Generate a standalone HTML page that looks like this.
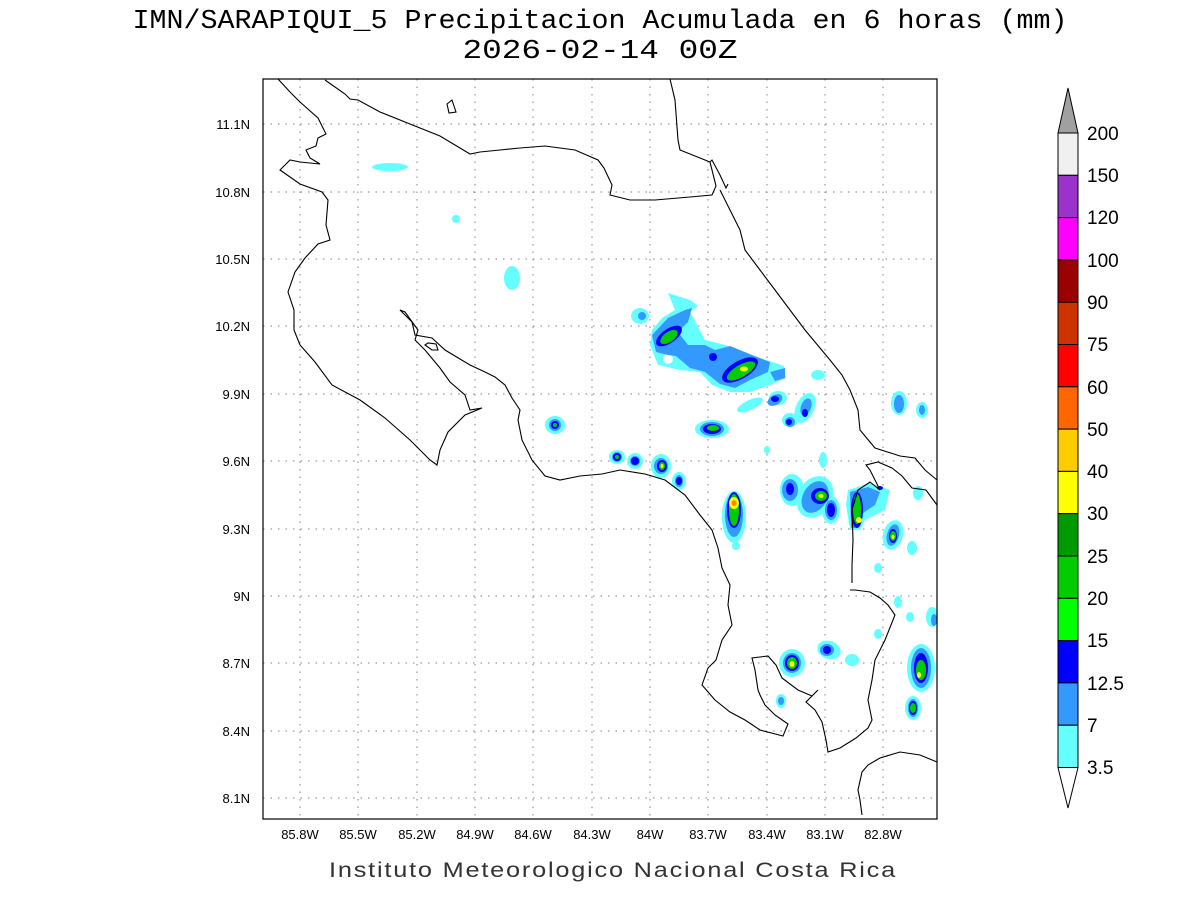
<!DOCTYPE html>
<html><head><meta charset="utf-8"><style>
body{margin:0;background:#fff}
svg{display:block;font-family:"Liberation Sans",sans-serif}
</style></head><body>
<svg width="1200" height="900" viewBox="0 0 1200 900" xmlns="http://www.w3.org/2000/svg">
<rect width="1200" height="900" fill="#fff"/>
<text x="600" y="28" font-size="27" text-anchor="middle" fill="#000" font-family="Liberation Mono, monospace" textLength="935" lengthAdjust="spacingAndGlyphs">IMN/SARAPIQUI_5 Precipitacion Acumulada en 6 horas (mm)</text>
<text x="600" y="58" font-size="27" text-anchor="middle" fill="#000" font-family="Liberation Mono, monospace" textLength="275" lengthAdjust="spacingAndGlyphs">2026-02-14 00Z</text>

<g stroke="#999" stroke-width="1.2" stroke-dasharray="1.5,6">
<line x1="300" y1="79" x2="300" y2="819"/><line x1="358" y1="79" x2="358" y2="819"/><line x1="417" y1="79" x2="417" y2="819"/><line x1="475" y1="79" x2="475" y2="819"/><line x1="533" y1="79" x2="533" y2="819"/><line x1="592" y1="79" x2="592" y2="819"/><line x1="650" y1="79" x2="650" y2="819"/><line x1="708" y1="79" x2="708" y2="819"/><line x1="767" y1="79" x2="767" y2="819"/><line x1="825" y1="79" x2="825" y2="819"/><line x1="883" y1="79" x2="883" y2="819"/>
<line x1="263" y1="124" x2="937" y2="124"/><line x1="263" y1="192" x2="937" y2="192"/><line x1="263" y1="259" x2="937" y2="259"/><line x1="263" y1="326" x2="937" y2="326"/><line x1="263" y1="394" x2="937" y2="394"/><line x1="263" y1="461" x2="937" y2="461"/><line x1="263" y1="529" x2="937" y2="529"/><line x1="263" y1="596" x2="937" y2="596"/><line x1="263" y1="663" x2="937" y2="663"/><line x1="263" y1="731" x2="937" y2="731"/><line x1="263" y1="798" x2="937" y2="798"/>
</g>

<g>
<g fill="#66ffff">
<ellipse cx="390" cy="167" rx="18" ry="4"/><ellipse cx="456" cy="219" rx="4" ry="4"/><ellipse cx="512" cy="278" rx="8" ry="12"/><ellipse cx="640" cy="316" rx="9" ry="8"/>
<path d="M668 293 L690 300 L698 306 L690 312 L705 340 L725 345 L760 358 L784 366 L786 378 L770 385 L750 392 L730 392 L712 385 L700 372 L680 370 L658 365 L650 345 L652 330 L662 318 L675 310 Z"/>
<ellipse cx="750" cy="405" rx="14" ry="5" transform="rotate(-25 750 405)"/><ellipse cx="712" cy="429" rx="17" ry="9"/><ellipse cx="805" cy="408" rx="9" ry="16" transform="rotate(25 805 408)"/><ellipse cx="790" cy="420" rx="8" ry="7"/><ellipse cx="818" cy="375" rx="7" ry="5"/><ellipse cx="778" cy="398" rx="9" ry="7"/>
<ellipse cx="899" cy="403" rx="8" ry="12"/><ellipse cx="922" cy="410" rx="6" ry="8"/><ellipse cx="555" cy="425" rx="10" ry="9"/>
<ellipse cx="617" cy="457" rx="8" ry="7"/><ellipse cx="635" cy="461" rx="8" ry="8"/><ellipse cx="661" cy="466" rx="10" ry="12"/><ellipse cx="679" cy="481" rx="7" ry="9"/>
<ellipse cx="734" cy="517" rx="12" ry="26"/><ellipse cx="792" cy="490" rx="12" ry="16"/><ellipse cx="815" cy="497" rx="17" ry="22" transform="rotate(30 815 497)"/><ellipse cx="831" cy="510" rx="9" ry="14"/>
<path d="M848 490 L870 483 L890 490 L885 510 L865 520 L860 530 L850 530 L846 505 Z"/><ellipse cx="893" cy="535" rx="10" ry="15" transform="rotate(15 893 535)"/><ellipse cx="918" cy="493" rx="5" ry="7"/>
<ellipse cx="736" cy="546" rx="4" ry="4"/><ellipse cx="823" cy="460" rx="4" ry="8"/><ellipse cx="767" cy="450" rx="3" ry="4"/><ellipse cx="912" cy="548" rx="5" ry="7"/>
<ellipse cx="792" cy="663" rx="13" ry="14"/><ellipse cx="829" cy="650" rx="12" ry="9" transform="rotate(20 829 650)"/><ellipse cx="852" cy="660" rx="7" ry="6"/><ellipse cx="781" cy="701" rx="5" ry="7"/>
<ellipse cx="921" cy="668" rx="14" ry="24"/><ellipse cx="913" cy="708" rx="8" ry="12"/><ellipse cx="932" cy="617" rx="6" ry="10"/><ellipse cx="898" cy="602" rx="4" ry="6"/><ellipse cx="878" cy="568" rx="4" ry="5"/><ellipse cx="910" cy="617" rx="4" ry="5"/><ellipse cx="878" cy="634" rx="4" ry="5"/>
</g>
<ellipse cx="668" cy="359" rx="5" ry="5" fill="#fff"/>
<g fill="#3399ff">
<ellipse cx="642" cy="316" rx="4" ry="4"/>
<path d="M652 335 L668 318 L685 310 L692 308 L688 322 L678 332 L688 345 L705 345 L715 350 L730 346 L752 355 L770 362 L768 372 L750 380 L735 388 L720 384 L705 372 L690 368 L676 356 L668 355 L656 352 Z"/>
<path d="M770 372 L785 368 L785 378 L775 381 Z"/>
<ellipse cx="775" cy="400" rx="8" ry="5" transform="rotate(-30 775 400)"/><ellipse cx="806" cy="407" rx="5" ry="9" transform="rotate(20 806 407)"/><ellipse cx="790" cy="422" rx="5" ry="5"/>
<ellipse cx="899" cy="404" rx="5" ry="9"/><ellipse cx="922" cy="410" rx="3" ry="5"/><ellipse cx="555" cy="425" rx="6" ry="6"/><ellipse cx="712" cy="429" rx="12" ry="7"/>
<ellipse cx="617" cy="457" rx="5" ry="5"/><ellipse cx="635" cy="461" rx="5" ry="5"/><ellipse cx="661" cy="466" rx="7" ry="8"/><ellipse cx="679" cy="481" rx="4" ry="6"/>
<ellipse cx="734" cy="515" rx="9" ry="22"/><ellipse cx="790" cy="490" rx="8" ry="11"/><ellipse cx="815" cy="497" rx="12" ry="17" transform="rotate(30 815 497)"/><ellipse cx="831" cy="510" rx="6" ry="10"/>
<path d="M850 492 L868 487 L880 492 L875 505 L860 515 L858 528 L851 528 Z"/><ellipse cx="893" cy="535" rx="6" ry="11" transform="rotate(15 893 535)"/>
<ellipse cx="792" cy="663" rx="9" ry="10"/><ellipse cx="827" cy="650" rx="7" ry="6"/><ellipse cx="921" cy="668" rx="10" ry="20"/><ellipse cx="913" cy="708" rx="5" ry="9"/><ellipse cx="934" cy="620" rx="3" ry="6"/><ellipse cx="781" cy="701" rx="3" ry="4"/>
</g>
<g fill="#0000ff">
<ellipse cx="669" cy="336" rx="15" ry="7" transform="rotate(-35 669 336)"/><ellipse cx="713" cy="357" rx="4" ry="4"/><ellipse cx="740" cy="370" rx="20" ry="9" transform="rotate(-30 740 370)"/>
<ellipse cx="775" cy="399" rx="4" ry="3"/><ellipse cx="805" cy="413" rx="3" ry="4"/><ellipse cx="789" cy="422" rx="3" ry="3"/><ellipse cx="555" cy="425" rx="4" ry="4"/><ellipse cx="712" cy="429" rx="9" ry="5"/>
<ellipse cx="617" cy="457" rx="4" ry="4"/><ellipse cx="635" cy="461" rx="4" ry="4"/><ellipse cx="662" cy="466" rx="5" ry="6"/><ellipse cx="679" cy="481" rx="3" ry="4"/>
<ellipse cx="734" cy="510" rx="7" ry="18"/><ellipse cx="790" cy="489" rx="4" ry="6"/><ellipse cx="820" cy="496" rx="9" ry="8"/><ellipse cx="831" cy="510" rx="4" ry="7"/><ellipse cx="857" cy="510" rx="6" ry="18"/><ellipse cx="880" cy="488" rx="3" ry="2"/><ellipse cx="893" cy="536" rx="4" ry="7"/>
<ellipse cx="792" cy="663" rx="7" ry="8"/><ellipse cx="827" cy="650" rx="4" ry="4"/><ellipse cx="921" cy="668" rx="7" ry="15"/><ellipse cx="913" cy="708" rx="4" ry="7"/>
</g>
<g fill="#00cc00">
<ellipse cx="669" cy="337" rx="10" ry="5" transform="rotate(-35 669 337)"/><ellipse cx="741" cy="371" rx="16" ry="6" transform="rotate(-30 741 371)"/><ellipse cx="713" cy="428" rx="6" ry="3"/><ellipse cx="662" cy="466" rx="3" ry="4"/>
<ellipse cx="734" cy="510" rx="5" ry="16"/><ellipse cx="821" cy="496" rx="6" ry="5"/><ellipse cx="857" cy="509" rx="4" ry="15"/><ellipse cx="893" cy="536" rx="3" ry="5"/>
<ellipse cx="792" cy="663" rx="5" ry="6"/><ellipse cx="921" cy="670" rx="5" ry="10"/><ellipse cx="913" cy="708" rx="3" ry="5"/><ellipse cx="555" cy="425" rx="2" ry="2"/><ellipse cx="617" cy="457" rx="2" ry="2"/>
</g>
<g fill="#ffff00">
<ellipse cx="744" cy="369" rx="4" ry="2.5"/><ellipse cx="734" cy="503" rx="5" ry="6"/><ellipse cx="821" cy="496" rx="2.5" ry="2"/><ellipse cx="859" cy="520" rx="3" ry="3"/><ellipse cx="792" cy="664" rx="2.5" ry="3"/><ellipse cx="919" cy="675" rx="2" ry="3"/><ellipse cx="893" cy="537" rx="1.5" ry="2"/><ellipse cx="662" cy="466" rx="1.5" ry="2"/>
</g>
<ellipse cx="734" cy="503" rx="2.5" ry="3" fill="#ff8800"/>
</g>

<g fill="none" stroke="#000" stroke-width="1.1">
<path d="M278 79 L290 92 L300 102 L318 118 L322 126 L326 134 L318 138 L316 146 L306 150 L310 158 L320 164 L300 162 L290 160 L280 170 L300 184 L322 192 L328 200 L326 225 L330 240 L318 244 L305 258 L295 272 L288 292 L294 310 L294 330 L300 345 L315 362 L332 385 L360 400 L385 418 L410 440 L430 460 L437 465 L440 450 L448 432 L465 415 L482 408 L470 410 L465 395 L450 382 L440 368 L425 350 L415 340 L418 330 L405 312 L400 310 L412 322 L415 335 L432 338 L445 350 L470 365 L485 372 L495 377 L505 385 L512 398 L520 410 L518 420 L522 440 L532 460 L545 476 L560 480 L580 476 L602 474 L620 470 L645 474 L665 480 L685 495 L700 515 L712 530 L718 548 L722 568 L730 585 L728 605 L732 625 L722 640 L716 660 L708 668 L702 685 L715 700 L730 712 L745 720 L760 730 L783 736 L788 724 L775 715 L765 705 L760 695 L758 690 L755 670 L752 658 L768 656 L776 665 L782 678 L798 690 L812 696 L818 690 L806 702 L815 710 L822 722 L826 740 L828 752 L840 748 L856 738 L868 728 L872 720 L868 700 L872 680 L875 660 L885 640 L895 615 L888 605 L880 598 L870 592 L855 590 L850 590"/>
<path d="M425 345 L432 350 L438 350 L436 344 L428 343 Z"/>
<path d="M447 104 L452 100 L456 112 L449 113 Z"/>
<path d="M325 80 L345 94 L350 99 L358 100 L380 112 L410 124 L440 136 L470 154 L480 152 L500 150 L520 148 L545 146 L575 150 L598 160 L604 168 L612 185 L610 195 L630 200 L655 200 L690 197 L712 195 L716 186 L710 162 L712 160 L720 175 L726 188 L728 184"/>
<path d="M670 79 L675 100 L678 140 L680 150 L700 158 L710 162 M720 190 L730 210 L740 230 L745 250 L760 270 L775 290 L790 310 L805 330 L820 348 L830 360 L842 375 L850 390 L858 410 L860 430 L875 448 L900 456 L915 458 L925 470 L937 480"/>
<path d="M852 583 L852 565 L853 540 L852 510 L858 490 L870 482 L880 490 L870 470 L866 465 L878 462 L892 468 L902 476 L912 488 L926 490 L937 505"/>
<path d="M862 815 L860 800 L858 790 L862 772 L868 765 L880 758 L900 752 L920 755 L937 762"/>
</g>

<rect x="263" y="79" width="674" height="740" fill="none" stroke="#000" stroke-width="1.2"/>

<g font-size="13" fill="#000" text-anchor="end">
<text x="250" y="129">11.1N</text><text x="250" y="197">10.8N</text><text x="250" y="264">10.5N</text><text x="250" y="331">10.2N</text><text x="250" y="399">9.9N</text><text x="250" y="466">9.6N</text><text x="250" y="534">9.3N</text><text x="250" y="601">9N</text><text x="250" y="668">8.7N</text><text x="250" y="736">8.4N</text><text x="250" y="803">8.1N</text>
</g>
<g font-size="13" fill="#000" text-anchor="middle">
<text x="300" y="839">85.8W</text><text x="358" y="839">85.5W</text><text x="417" y="839">85.2W</text><text x="475" y="839">84.9W</text><text x="533" y="839">84.6W</text><text x="592" y="839">84.3W</text><text x="650" y="839">84W</text><text x="708" y="839">83.7W</text><text x="767" y="839">83.4W</text><text x="825" y="839">83.1W</text><text x="883" y="839">82.8W</text>
</g>
<text x="613" y="877" font-size="21" text-anchor="middle" fill="#333" letter-spacing="1.5" textLength="568" lengthAdjust="spacingAndGlyphs">Instituto Meteorologico Nacional Costa Rica</text>

<g stroke="#000" stroke-width="1">
<path d="M1058 133 L1068 88 L1078 133 Z" fill="#a0a0a0"/>
<rect x="1058" y="133" width="20" height="42.3" fill="#f0f0f0"/>
<rect x="1058" y="175.3" width="20" height="42.3" fill="#9933cc"/>
<rect x="1058" y="217.6" width="20" height="42.3" fill="#ff00ff"/>
<rect x="1058" y="259.9" width="20" height="42.3" fill="#990000"/>
<rect x="1058" y="302.2" width="20" height="42.3" fill="#cc3300"/>
<rect x="1058" y="344.5" width="20" height="42.3" fill="#ff0000"/>
<rect x="1058" y="386.8" width="20" height="42.3" fill="#ff6600"/>
<rect x="1058" y="429.1" width="20" height="42.3" fill="#ffcc00"/>
<rect x="1058" y="471.4" width="20" height="42.3" fill="#ffff00"/>
<rect x="1058" y="513.7" width="20" height="42.3" fill="#009900"/>
<rect x="1058" y="556" width="20" height="42.3" fill="#00cc00"/>
<rect x="1058" y="598.3" width="20" height="42.3" fill="#00ff00"/>
<rect x="1058" y="640.6" width="20" height="42.3" fill="#0000ff"/>
<rect x="1058" y="682.9" width="20" height="42.3" fill="#3399ff"/>
<rect x="1058" y="725.2" width="20" height="42.3" fill="#66ffff"/>
<path d="M1058 767.5 L1068 808 L1078 767.5 Z" fill="#fff"/>
</g>
<g font-size="19" fill="#000">
<text x="1087" y="140">200</text><text x="1087" y="182">150</text><text x="1087" y="224">120</text><text x="1087" y="267">100</text><text x="1087" y="309">90</text><text x="1087" y="351">75</text><text x="1087" y="394">60</text><text x="1087" y="436">50</text><text x="1087" y="478">40</text><text x="1087" y="520">30</text><text x="1087" y="563">25</text><text x="1087" y="605">20</text><text x="1087" y="647">15</text><text x="1087" y="690">12.5</text><text x="1087" y="732">7</text><text x="1087" y="774">3.5</text>
</g>
</svg>
</body></html>
